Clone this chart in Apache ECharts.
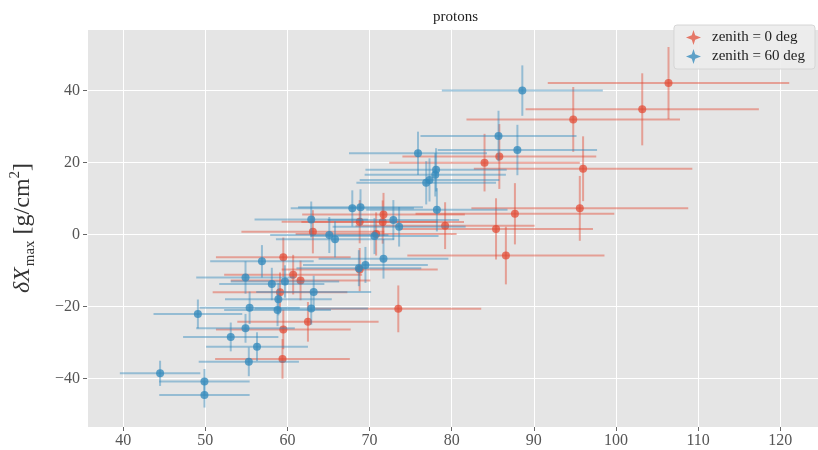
<!DOCTYPE html>
<html>
<head>
<meta charset="utf-8">
<script src="https://cdn.jsdelivr.net/npm/echarts@6/dist/echarts.min.js"></script>
<style>
  html, body { margin: 0; padding: 0; background: #fff; }
  #chart { width: 818px; height: 450px; }
</style>
</head>
<body>
<div id="chart"></div>
<script>
// zenith = 0 deg
const redX    = [106.4, 103.2, 94.8, 84.0, 85.8, 96.0, 95.6, 87.7, 85.4, 86.6, 79.2, 71.7, 71.6, 68.8, 63.1, 70.8, 59.5, 68.8, 60.7, 61.6, 59.1, 62.5, 59.5, 59.4, 73.5];
const redY    = [42.1, 34.8, 32.0, 20.0, 21.7, 18.3, 7.3, 5.8, 1.6, -5.8, 2.5, 5.6, 3.5, 3.6, 0.8, 0.2, -6.3, -9.7, -11.1, -12.7, -16.0, -24.2, -26.3, -34.5, -20.6];
const redXErr = [14.7, 14.2, 13.0, 11.6, 11.8, 13.3, 13.2, 12.1, 11.8, 12.0, 10.9, 9.9, 9.9, 9.5, 8.7, 9.8, 8.2, 9.5, 8.4, 8.5, 8.2, 8.6, 8.2, 8.2, 10.1];
const redYErr = [10.0, 10.0, 9.0, 8.0, 9.0, 9.0, 9.0, 8.5, 8.5, 8.0, 6.5, 6.0, 6.0, 6.0, 6.0, 6.0, 5.5, 6.0, 5.5, 5.5, 5.5, 5.5, 5.5, 5.5, 6.5];

// zenith = 60 deg
const blueX    = [88.6, 85.7, 88.0, 75.9, 78.1, 78.0, 77.3, 76.9, 78.2, 72.9, 73.6, 71.7, 67.9, 68.9, 62.9, 65.1, 65.8, 70.6, 68.7, 69.5, 56.9, 58.1, 59.7, 63.2, 54.9, 58.9, 55.4, 58.8, 62.9, 49.1, 54.9, 53.1, 56.3, 55.3, 44.5, 49.9, 49.9];
const blueY    = [40.0, 27.4, 23.5, 22.6, 18.0, 16.6, 15.2, 14.4, 6.9, 4.1, 2.2, -6.7, 7.3, 7.6, 4.2, -0.1, -1.3, -0.4, -9.3, -8.4, -7.4, -13.7, -13.0, -15.9, -11.9, -17.9, -20.3, -20.9, -20.5, -22.0, -26.0, -28.4, -31.1, -35.3, -38.5, -40.8, -44.5];
const blueXErr = [9.8, 9.5, 9.7, 8.4, 8.6, 8.6, 8.5, 8.5, 8.6, 8.0, 8.1, 7.9, 7.5, 7.6, 6.9, 7.2, 7.2, 7.8, 7.6, 7.6, 6.3, 6.4, 6.6, 7.0, 6.0, 6.5, 6.1, 6.5, 6.9, 5.4, 6.0, 5.8, 6.2, 6.1, 4.9, 5.5, 5.5];
const blueYErr = [7.0, 7.0, 7.0, 6.0, 6.0, 6.0, 6.0, 6.0, 6.0, 5.5, 5.5, 5.5, 5.0, 5.0, 5.0, 5.0, 5.0, 5.0, 5.0, 5.0, 4.5, 4.5, 4.5, 4.5, 4.5, 4.5, 4.5, 4.5, 4.5, 4.0, 4.0, 4.0, 4.0, 4.0, 3.5, 3.5, 3.5];

const xTicks = [40, 50, 60, 70, 80, 90, 100, 110, 120];
const yTicks = [-40, -20, 0, 20, 40];

const serif = '"Liberation Serif", "DejaVu Serif", serif';
const RED = '#E24A33', BLUE = '#348ABD';
// errorbar-like legend glyph: four-pointed star
const starIcon = 'path://M8,0L9.8,5.6L16,8L9.8,10.4L8,16L6.2,10.4L0,8L6.2,5.6Z';

function rows(xs, ys, xe, ye) {
  return xs.map((x, i) => [x, ys[i], xe[i], ye[i]]);
}

function errRenderItem(params, api) {
  const x = api.value(0), y = api.value(1), xe = api.value(2), ye = api.value(3);
  const l = api.coord([x - xe, y]), r = api.coord([x + xe, y]);
  const t = api.coord([x, y + ye]), b = api.coord([x, y - ye]);
  const style = { stroke: api.visual('color'), lineWidth: 2 };
  return {
    type: 'group',
    children: [
      { type: 'line', shape: { x1: l[0], y1: l[1], x2: r[0], y2: r[1] }, style },
      { type: 'line', shape: { x1: t[0], y1: t[1], x2: b[0], y2: b[1] }, style }
    ]
  };
}

const minus = v => String(v).replace('-', '\u2212');

const chart = echarts.init(document.getElementById('chart'));
chart.setOption({
  animation: false,
  title: {
    text: 'protons',
    left: 428, top: 5,
    textStyle: { fontFamily: serif, fontSize: 15, fontWeight: 'normal', color: '#222' }
  },
  legend: {
    orient: 'vertical',
    right: 3, top: 25,
    padding: [5, 10, 5, 12],
    itemGap: 4,
    itemWidth: 15, itemHeight: 15,
    backgroundColor: 'rgba(236,236,236,0.9)',
    borderColor: '#d6d6d6', borderWidth: 1, borderRadius: 3,
    textStyle: { fontFamily: serif, fontSize: 15, color: '#222', padding: [0, 0, 0, 6] },
    data: [
      { name: 'zenith = 0 deg', icon: starIcon },
      { name: 'zenith = 60 deg', icon: starIcon }
    ]
  },
  grid: {
    left: 87, right: 0, top: 29, bottom: 23,
    outerBoundsMode: 'none',
    show: true, backgroundColor: '#E5E5E5', borderWidth: 0
  },
  xAxis: {
    type: 'value',
    min: 35.6, max: 124.6,
    splitNumber: 9,
    axisLine: { show: false, onZero: false },
    axisTick: { show: true, length: 4, lineStyle: { color: '#666' } },
    axisLabel: {
      showMinLabel: false, showMaxLabel: false,
      margin: 6,
      fontFamily: serif, fontSize: 16, color: '#555',
      formatter: v => xTicks.includes(v) ? String(v) : ''
    },
    splitLine: { lineStyle: { color: '#ffffff', width: 1 } }
  },
  yAxis: {
    type: 'value',
    min: -53.4, max: 57.1,
    splitNumber: 6,
    axisLine: { show: false, onZero: false },
    axisTick: { show: true, length: 4, lineStyle: { color: '#666' } },
    axisLabel: {
      showMinLabel: false, showMaxLabel: false,
      margin: 7,
      fontFamily: serif, fontSize: 16, color: '#555',
      formatter: v => yTicks.includes(v) ? minus(v) : ''
    },
    splitLine: { lineStyle: { color: '#ffffff', width: 1 } },
    name: '{d|δX}{sub|max}{n| [g/cm}{sup|2}{n|]}',
    nameLocation: 'middle',
    nameRotate: 90,
    nameGap: 49,
    nameTextStyle: {
      fontFamily: serif, color: '#333',
      rich: {
        d: { fontFamily: serif, fontStyle: 'italic', fontSize: 24, color: '#333', lineHeight: 30, verticalAlign: 'middle' },
        sub: { fontFamily: serif, fontSize: 15, color: '#333', lineHeight: 30, verticalAlign: 'bottom', padding: [0, 0, 0, 1] },
        n: { fontFamily: serif, fontSize: 24, color: '#333', lineHeight: 30, verticalAlign: 'middle' },
        sup: { fontFamily: serif, fontSize: 15, color: '#333', lineHeight: 30, verticalAlign: 'top' }
      }
    }
  },
  series: [
    {
      name: 'zenith = 0 deg',
      type: 'scatter',
      data: rows(redX, redY, redXErr, redYErr),
      encode: { x: 0, y: 1 },
      symbol: 'circle', symbolSize: 8,
      itemStyle: { color: RED, opacity: 0.72 },
      z: 3
    },
    {
      name: 'zenith = 0 deg err',
      type: 'custom',
      data: rows(redX, redY, redXErr, redYErr),
      encode: { x: 0, y: 1 },
      renderItem: errRenderItem,
      itemStyle: { color: 'rgba(226,74,51,0.45)' },
      z: 2
    },
    {
      name: 'zenith = 60 deg',
      type: 'scatter',
      data: rows(blueX, blueY, blueXErr, blueYErr),
      encode: { x: 0, y: 1 },
      symbol: 'circle', symbolSize: 8,
      itemStyle: { color: BLUE, opacity: 0.78 },
      z: 5
    },
    {
      name: 'zenith = 60 deg err',
      type: 'custom',
      data: rows(blueX, blueY, blueXErr, blueYErr),
      encode: { x: 0, y: 1 },
      renderItem: errRenderItem,
      itemStyle: { color: 'rgba(52,138,189,0.45)' },
      z: 4
    }
  ]
});
</script>
</body>
</html>
